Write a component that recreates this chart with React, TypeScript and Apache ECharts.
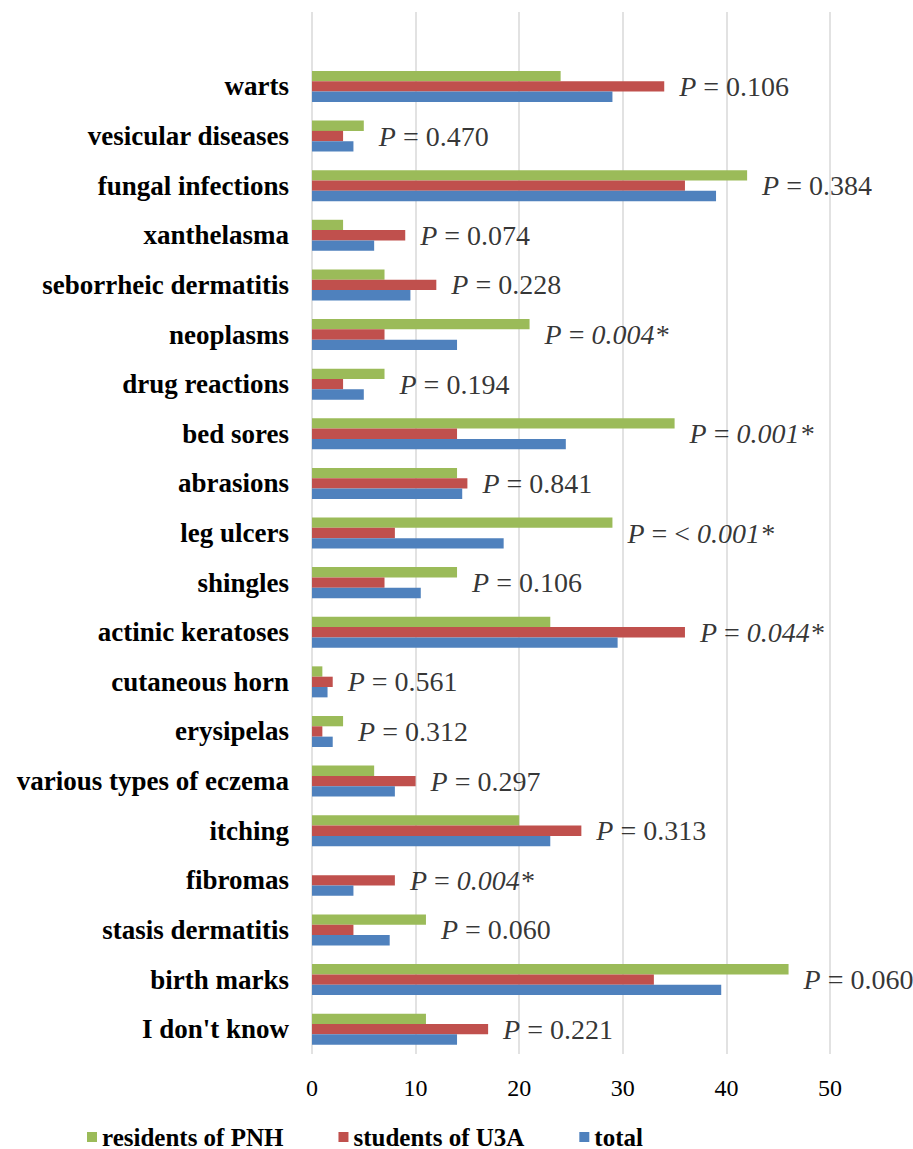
import React, { useEffect, useRef } from "react";
import * as echarts from "echarts";

const categories = [
  "warts",
  "vesicular diseases",
  "fungal infections",
  "xanthelasma",
  "seborrheic dermatitis",
  "neoplasms",
  "drug reactions",
  "bed sores",
  "abrasions",
  "leg ulcers",
  "shingles",
  "actinic keratoses",
  "cutaneous horn",
  "erysipelas",
  "various types of eczema",
  "itching",
  "fibromas",
  "stasis dermatitis",
  "birth marks",
  "I don't know",
];

const residentsPNH = [24, 5, 42, 3, 7, 21, 7, 35, 14, 29, 14, 23, 1, 3, 6, 20, 0, 11, 46, 11];
const studentsU3A = [34, 3, 36, 9, 12, 7, 3, 14, 15, 8, 7, 36, 2, 1, 10, 26, 8, 4, 33, 17];
const totalValues = [29, 4, 39, 6, 9.5, 14, 5, 24.5, 14.5, 18.5, 10.5, 29.5, 1.5, 2, 8, 23, 4, 7.5, 39.5, 14];

const pValues = [
  "0.106", "0.470", "0.384", "0.074", "0.228", "0.004*", "0.194", "0.001*", "0.841", "< 0.001*",
  "0.106", "0.044*", "0.561", "0.312", "0.297", "0.313", "0.004*", "0.060", "0.060", "0.221",
];

const seriesNames = ["residents of PNH", "students of U3A", "total"];
const xTicks = { min: 0, max: 50, interval: 10 };

const COLORS = ["#9BBB59", "#C0504D", "#4F81BD"];
const SERIF = "'Liberation Serif', 'Times New Roman', serif";

export default function App() {
  const ref = useRef<HTMLDivElement>(null);

  useEffect(() => {
    if (!ref.current) return;
    const chart = echarts.init(ref.current, undefined, { renderer: "svg" });
    const yCats = ["", ...categories];
    const pad = (arr: number[]) => [null, ...arr];

    const labelData = categories.map((c, i) => {
      const m = Math.max(residentsPNH[i], studentsU3A[i], totalValues[i]);
      return { value: [m, i + 1], p: pValues[i] };
    });

    const fmtP = (p: string) => {
      if (p.includes("*")) {
        if (p.startsWith("<")) {
          return "{i|P} = < {i|" + p.replace("<", "").trim() + "}";
        }
        return "{i|P} = {i|" + p + "}";
      }
      return "{i|P} = " + p;
    };

    const option: any = {
      animation: false,
      grid: { left: 312, right: 83, top: 12, bottom: 95, containLabel: false },
      legend: {
        data: seriesNames,
        left: 82,
        top: 1119,
        itemWidth: 10,
        itemHeight: 10,
        itemGap: 55,
        icon: "rect",
        textStyle: { fontFamily: SERIF, fontWeight: "bold", fontSize: 25, lineHeight: 26, color: "#000" },
      },
      xAxis: {
        type: "value",
        min: xTicks.min,
        max: xTicks.max,
        interval: xTicks.interval,
        axisLine: { show: false },
        axisTick: { show: false },
        splitLine: { show: true, lineStyle: { color: "#D9D9D9", width: 1.5 } },
        axisLabel: { fontFamily: SERIF, fontSize: 24, color: "#000", margin: 22 },
      },
      yAxis: {
        type: "category",
        inverse: true,
        data: yCats,
        axisLine: { show: false },
        axisTick: { show: false },
        axisLabel: { fontFamily: SERIF, fontWeight: "bold", fontSize: 27, color: "#000", margin: 23 },
      },
      series: [
        {
          name: seriesNames[0],
          type: "bar",
          data: pad(residentsPNH),
          itemStyle: { color: COLORS[0] },
          barGap: "0%",
          barCategoryGap: "37.5%",
        },
        {
          name: seriesNames[1],
          type: "bar",
          data: pad(studentsU3A),
          itemStyle: { color: COLORS[1] },
          barGap: "0%",
          barCategoryGap: "37.5%",
        },
        {
          name: seriesNames[2],
          type: "bar",
          data: pad(totalValues),
          itemStyle: { color: COLORS[2] },
          barGap: "0%",
          barCategoryGap: "37.5%",
        },
        {
          name: "p-values",
          type: "scatter",
          symbolSize: 0,
          itemStyle: { color: "transparent" },
          data: labelData,
          silent: true,
          label: {
            show: true,
            position: "right",
            distance: 15,
            fontFamily: SERIF,
            fontSize: 28,
            color: "#000",
            formatter: (params: any) => fmtP(params.data.p),
            rich: {
              i: { fontFamily: SERIF, fontSize: 28, fontStyle: "italic", color: "#000" },
            },
          },
        },
      ],
    };
    chart.setOption(option);
    return () => chart.dispose();
  }, []);

  return (
    <div
      ref={ref}
      style={{ position: "fixed", left: 0, top: 0, width: 913, height: 1149, background: "#fff" }}
    />
  );
}
